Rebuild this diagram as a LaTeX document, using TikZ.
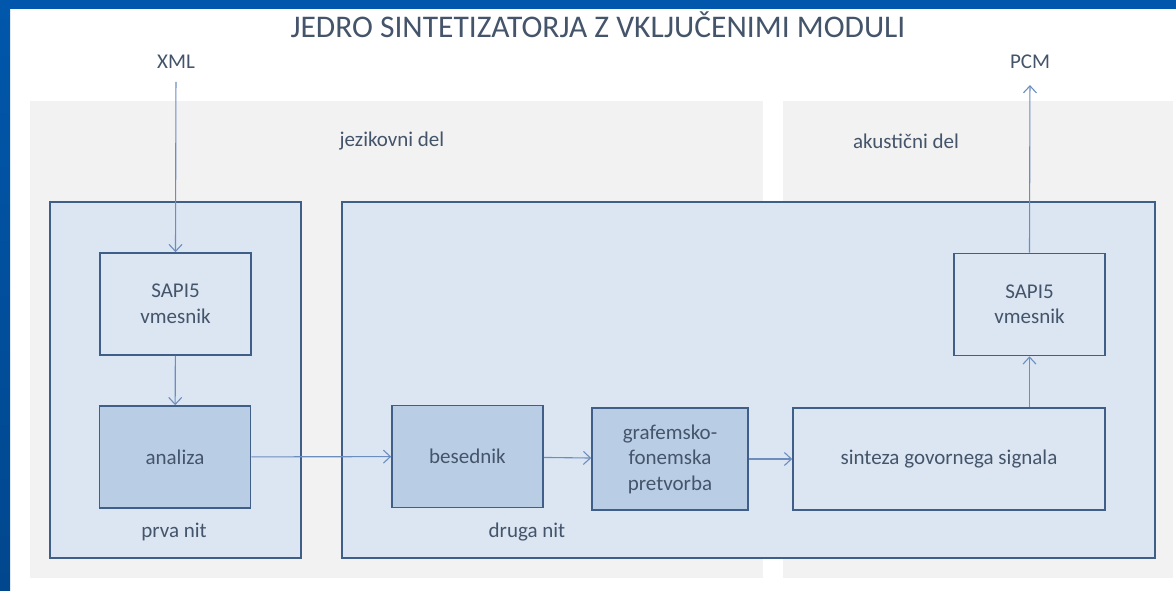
\documentclass[tikz,border=0pt]{standalone}
\usepackage{fontspec}
\setmainfont{Carlito}
\usetikzlibrary{arrows.meta}

\definecolor{frameblue}{HTML}{0157AB}
\definecolor{framedark}{HTML}{01478E}
\definecolor{panelgray}{HTML}{F2F2F2}
\definecolor{lightblue}{HTML}{DCE6F2}
\definecolor{midblue}{HTML}{B9CDE5}
\definecolor{boxline}{HTML}{3F5F88}
\definecolor{arrowblue}{HTML}{6C8EBF}
\definecolor{txtgray}{HTML}{44546A}

\begin{document}
\begin{tikzpicture}[
    x=1pt, y=-1pt,
    every node/.style={text=txtgray, inner sep=0pt, font=\fontsize{21}{25.5}\selectfont},
    panel/.style={fill=panelgray},
    thread/.style={draw=boxline, fill=lightblue, line width=1.6pt},
    module/.style={draw=boxline, fill=lightblue, line width=1.6pt, align=center,
                   minimum width=151pt, minimum height=102pt},
    darkmodule/.style={module, fill=midblue},
    flow/.style={draw=arrowblue, line width=1.1pt, -{Straight Barb[length=7pt,width=13pt]}},
]
  \useasboundingbox [fill=white] (0,0) rectangle (1176,591);
  \shade [top color=frameblue, bottom color=framedark] (0,0) rectangle (10,591);
  \fill  [frameblue]                                   (0,0) rectangle (1176,9);

  \node [font=\fontsize{31.5}{33}\selectfont] (title) at (598,25) {JEDRO SINTETIZATORJA Z VKLJUČENIMI MODULI};
  \node [] (xml) at (176,62)  {XML};
  \node [] (pcm) at (1030,62) {PCM};

  \node [panel, minimum width=733pt, minimum height=477pt] (jezik)    at (396.5,339.5) {};
  \node [panel, minimum width=390pt, minimum height=477pt] (akustika) at (978,339.5)   {};
  \node [] (jezikl)    at (392,141) {jezikovni del};
  \node [] (akustikal) at (906,141) {akustični del};

  \node [thread, minimum width=251pt, minimum height=356pt] (prva)  at (175.5,380) {};
  \node [thread, minimum width=813pt, minimum height=356pt] (druga) at (748.5,380) {};
  \node [] (praval) at (174,532) {prva nit};
  \node [] (drugal) at (527,532) {druga nit};

  \node [module]                            (sapiA)    at (175.5,304)  {SAPI5\\vmesnik};
  \node [darkmodule]                        (analiza)  at (175,457)    {analiza};
  \node [darkmodule]                        (besednik) at (467.5,456.5) {besednik};
  \node [darkmodule, minimum width=156pt]   (grafem)   at (670,459)    {grafemsko-\\fonemska\\pretvorba};
  \node [module, minimum width=312pt]       (sinteza)  at (949,459)    {sinteza govornega signala};
  \node [module]                            (sapiB)    at (1029.5,304.5) {SAPI5\\vmesnik};

  \draw [flow, shorten <=13pt] (xml.south) -- (sapiA.north);
  \draw [flow] (sapiA) -- (analiza);
  \draw [flow] (analiza) -- (besednik);
  \draw [flow] (besednik) -- (grafem);
  \draw [flow] (grafem) -- (sinteza);
  \draw [flow] (sapiB.south |- sinteza.north) -- (sapiB.south);
  \draw [flow, shorten >=16pt] (sapiB.north) -- (pcm.south);
\end{tikzpicture}
\end{document}
